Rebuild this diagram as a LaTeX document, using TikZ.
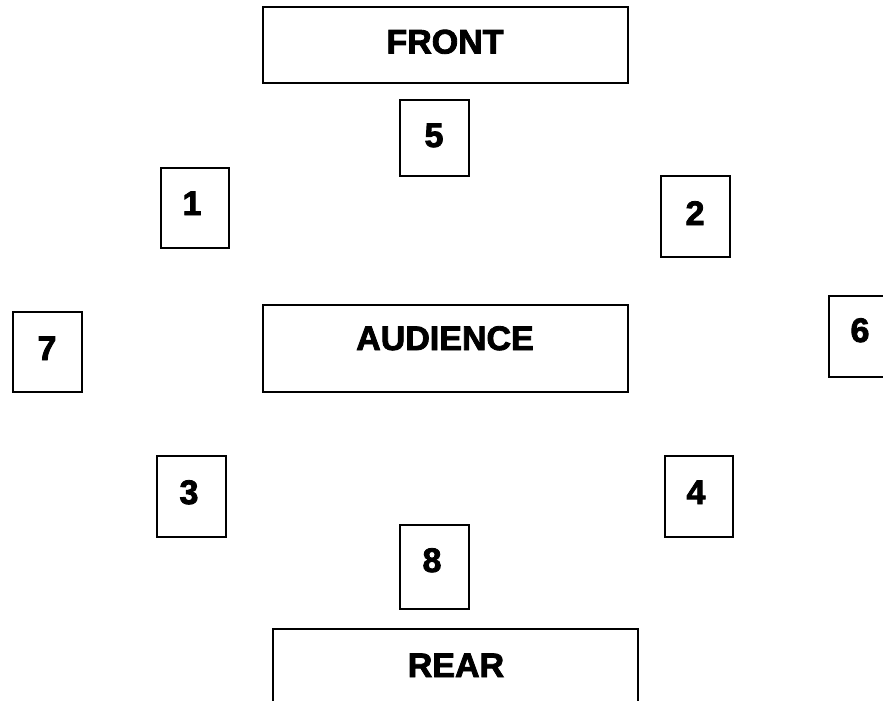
\documentclass[tikz,border=0pt]{standalone}
\usepackage{fontspec}
\setmainfont{Liberation Sans}
\newfontfamily\heavyfont[BoldFont={Liberation Sans Bold},BoldFeatures={FakeBold=2.5}]{Liberation Sans}
\begin{document}
\begin{tikzpicture}[x=1pt,y=-1pt,
  box/.style={draw=black,line width=1.8pt,fill=white,rectangle,inner sep=0pt},
  lbl/.style={inner sep=0pt,text height=24pt,text depth=0pt,font=\fontsize{34}{40}\heavyfont\bfseries}]
\clip (0,0) rectangle (883,701);
\fill[white] (0,0) rectangle (883,701);
% boxes
\node[box,minimum width=365pt,minimum height=76pt] (front) at (445.5,45) {};
\node[box,minimum width=69pt,minimum height=76pt] (b5) at (434.5,138) {};
\node[box,minimum width=68pt,minimum height=80pt] (b1) at (195,208) {};
\node[box,minimum width=69pt,minimum height=81pt] (b2) at (695.5,216.5) {};
\node[box,minimum width=69pt,minimum height=80pt] (b7) at (47.5,352) {};
\node[box,minimum width=365pt,minimum height=87pt] (aud) at (445.5,348.5) {};
\node[box,minimum width=69pt,minimum height=81pt] (b6) at (863.5,336.5) {};
\node[box,minimum width=69pt,minimum height=81pt] (b3) at (191.5,496.5) {};
\node[box,minimum width=68pt,minimum height=81pt] (b4) at (699,496.5) {};
\node[box,minimum width=69pt,minimum height=84pt] (b8) at (434.5,567) {};
\node[box,minimum width=365pt,minimum height=91pt] (rear) at (455.5,674.5) {};
% labels
\node[lbl] (tfront) at (445,41.5) {FRONT};
\node[lbl] (t5) at (434,135) {5};
\node[lbl] (t1) at (192,203) {1};
\node[lbl] (t2) at (695,213) {2};
\node[lbl] (t7) at (47,348) {7};
\node[lbl] (taud) at (445,338) {AUDIENCE};
\node[lbl] (t6) at (860,330) {6};
\node[lbl] (t3) at (189,492) {3};
\node[lbl] (t4) at (696,492) {4};
\node[lbl] (t8) at (432,560) {8};
\node[lbl] (trear) at (456,665) {REAR};
\end{tikzpicture}
\end{document}
